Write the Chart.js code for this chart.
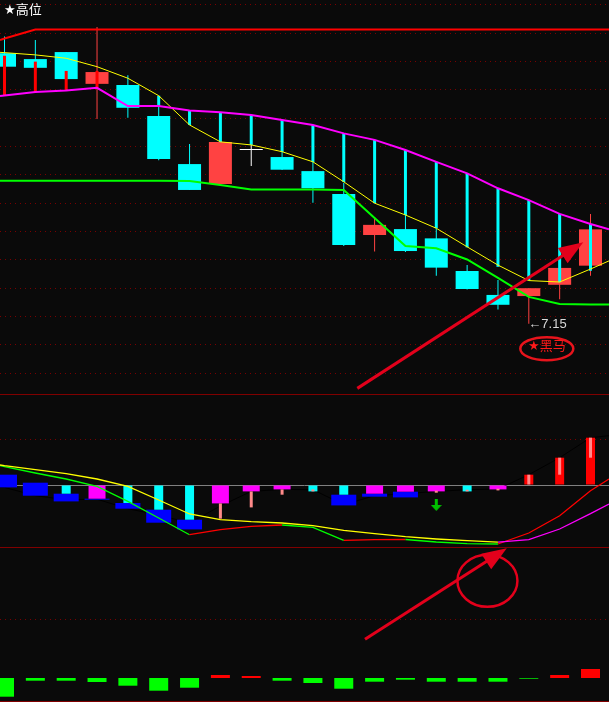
<!DOCTYPE html>
<html><head><meta charset="utf-8">
<script src="https://cdn.jsdelivr.net/npm/chart.js@4.4.0/dist/chart.umd.min.js"></script>
<style>
html,body{margin:0;padding:0;background:#0a0a0a;overflow:hidden;}
#wrap{position:relative;width:609px;height:702px;background:#0a0a0a;}
#wrap canvas{position:absolute;left:0;}
.sep{position:absolute;left:0;width:609px;height:1px;background:#800000;}
</style></head><body>
<div id="wrap">
<canvas id="cTop" width="609" height="394" style="top:0px"></canvas>
<div class="sep" style="top:394px"></div>
<canvas id="cMid" width="609" height="152" style="top:395px"></canvas>
<div class="sep" style="top:547px"></div>
<canvas id="cBot" width="609" height="153" style="top:548px"></canvas>
<div class="sep" style="top:701px"></div>
</div>
<script>
// ---------- data ----------
const dayIndex = [0,1,2,3,4,5,6,7,8,9,10,11,12,13,14,15,16,17,18,19];
const X_MIN = -0.146, X_MAX = 19.6;           // visible index range
const lineX = [X_MIN, ...dayIndex, X_MAX];     // line series: left edge, 20 days, right edge

// price panel (candles)
const open  = [8.111,8.090,8.115,8.002,7.998,7.888,7.717,7.646,7.767,7.742,7.692,7.611,7.465,7.486,7.453,7.337,7.252,7.248,7.288,7.356];
const close = [8.063,8.059,8.019,8.044,7.917,7.735,7.625,7.795,7.767,7.697,7.631,7.429,7.501,7.408,7.349,7.273,7.217,7.276,7.348,7.485];
const high  = [8.170,8.158,8.115,8.204,8.033,7.923,7.788,7.795,7.785,7.760,7.724,7.650,7.529,7.536,7.488,7.358,7.305,7.276,7.348,7.540];
const low   = [8.062,8.058,8.019,7.877,7.882,7.731,7.625,7.646,7.710,7.696,7.580,7.426,7.406,7.405,7.320,7.271,7.200,7.150,7.237,7.320];

// price panel lines (22 values: left edge, 20 days, right edge)
const resistLine = [8.158,8.163,8.195,8.195,8.195,8.195,8.195,8.195,8.195,8.195,8.195,8.195,8.195,8.195,8.195,8.195,8.195,8.195,8.195,8.195,8.195,8.195];
const upperBand  = [7.959,7.961,7.973,7.978,7.988,7.923,7.923,7.907,7.901,7.891,7.874,7.856,7.826,7.803,7.767,7.725,7.684,7.631,7.589,7.540,7.504,7.485];
const maLine     = [8.114,8.113,8.105,8.093,8.063,8.022,7.960,7.856,7.796,7.785,7.761,7.725,7.654,7.578,7.536,7.489,7.423,7.358,7.303,7.298,7.344,7.373];
const lowerBand  = [7.658,7.658,7.658,7.658,7.658,7.658,7.658,7.657,7.643,7.627,7.627,7.627,7.625,7.525,7.426,7.418,7.378,7.313,7.245,7.220,7.218,7.218];

// band bars: from upper band to this value; signal 1 = red, -1 = cyan
const bandBarEnd = [8.102,8.081,8.048,8.048,null,7.960,7.856,7.795,7.785,7.760,7.724,7.653,7.578,7.536,7.489,7.421,7.352,7.303,7.297,7.338];
const bandSignal = [1,1,1,1,0,-1,-1,-1,-1,-1,-1,-1,-1,-1,-1,-1,-1,-1,-1,-1];

// top panel grid levels
const topGrid = [8.285,8.182,8.082,7.983,7.880,7.780,7.681,7.578,7.478,7.379,7.276,7.176,7.077,6.973];

// middle panel (oscillator)
const momBar  = [null,null,-8.7,null,-18,-24.7,-34.7,null,null,null,-6.4,-9.7,null,null,null,-6.4,null,10.3,27.3,47.3];
const weakBar = [null,null,null,-13.7,null,null,null,-18.4,-6.4,-4.4,null,null,-8.7,-6.7,-6.4,null,-4.4,null,null,null];
const stepBar = [null,null,null,null,null,null,null,[-18.4,-33.7],[-6.4,-22.4],[-4.4,-9.7],[-4.4,-6.4],null,null,null,[-5.7,-7.7],[-4.7,-6.4],[-3.7,-5.4],[10.3,0],[27.3,10.3],[47.3,27.3]];
const blueBar = [[10.3,-2.4],[2.3,-10.7],[-8.7,-16.4],[-13.7,-14.7],[-18,-23.7],[-24.7,-37.7],[-34.7,-44.4],null,null,null,null,[-9.7,-20.4],[-8.7,-11.7],[-6.7,-12.4],null,null,null,null,null,null];
const shadowLine = [-2.4,-2.4,-10.7,-14.7,-14.2,-23.7,-30,-38,-21,-6.4,-4.4,-4.7,-19.7,-10.7,-8.7,-6.4,-4.7,-4,10.3,27.3,47.3,49.3];
const fastLine = [19.3,18.3,12,6,-1.4,-16.4,-33,-49.7,-44.7,-41.4,-40,-42.4,-55.4,-54.7,-54.5,-57,-58.7,-59,-48,-30.7,-5.7,6];
const slowLine = [20,19.3,15.3,11.3,6,-1.4,-15,-29,-34.7,-36.7,-38,-40.7,-45.4,-48.7,-51.7,-54,-55.7,-57.2,-54.7,-44,-28.7,-19];
const sellSignal = [null,null,null,null,null,null,null,null,null,null,null,null,null,null,-20,null,null,null,null,null];
const midGrid = [46, 0];

// bottom panel (volume-like bars)
const flowBar = [-18.7,-2.7,-2.7,-4,-7.7,-12.7,-9.7,3,2,-2.7,-5,-10.7,-3.7,-1.7,-3.7,-3.7,-3.7,-0.7,3,9];
const botGrid = [59];

// ---------- helpers ----------
const RED_C = '#ff4242', CYAN = '#00ffff';
const ptsOf = (arr) => dayIndex.filter(i => arr[i] != null).map(i => ({x: i, y: arr[i]}));
const edgePts = (arr) => arr.map((v, i) => ({x: lineX[i], y: v}));

function baseOptions(yMin, yMax, grid, gridColor, gridDash) {
  return {
    responsive: false, animation: false, events: [],
    layout: {padding: 0, autoPadding: false},
    plugins: {legend: {display: false}, tooltip: {enabled: false}},
    scales: {
      x: {type: 'linear', min: X_MIN, max: X_MAX, offset: false, display: false},
      y: {type: 'linear', min: yMin, max: yMax, display: true,
          afterBuildTicks: s => { s.ticks = grid.map(v => ({value: v})); },
          ticks: {display: false},
          grid: {drawTicks: false, lineWidth: 1, color: gridColor},
          border: {display: false, dash: gridDash}}
    }
  };
}

function drawArrow(ctx, x0, y0, x1, y1, color, lw, headLen, headHalf) {
  const a = Math.atan2(y1 - y0, x1 - x0);
  const ux = Math.cos(a), uy = Math.sin(a);
  const bx = x1 - ux * headLen, by = y1 - uy * headLen;
  ctx.strokeStyle = color; ctx.lineWidth = lw; ctx.lineCap = 'butt';
  ctx.beginPath(); ctx.moveTo(x0, y0); ctx.lineTo(bx + ux * 3, by + uy * 3); ctx.stroke();
  ctx.fillStyle = color;
  ctx.beginPath(); ctx.moveTo(x1, y1);
  ctx.lineTo(bx - uy * headHalf, by + ux * headHalf);
  ctx.lineTo(bx + uy * headHalf, by - ux * headHalf);
  ctx.closePath(); ctx.fill();
}

const candleColor = dayIndex.map(i => close[i] > open[i] ? RED_C : (close[i] < open[i] ? CYAN : '#ffffff'));
const bandIdx = dayIndex.filter(i => bandBarEnd[i] != null);

// ---------- top chart ----------
const topNotes = {
  id: 'topNotes',
  afterDatasetsDraw(chart) {
    const {ctx, scales: {x, y}} = chart;
    ctx.save();
    ctx.fillStyle = '#ffffff';
    ctx.font = '13px "DejaVu Sans", "Noto Sans CJK SC"';
    ctx.textBaseline = 'top'; ctx.textAlign = 'left';
    ctx.fillText('★高位', 4, 4);

    const li = low.indexOf(Math.min(...low));
    const lx = x.getPixelForValue(li), ly = y.getPixelForValue(low[li]);
    ctx.fillStyle = '#d8d8d8';
    ctx.font = '13px "Liberation Sans", "DejaVu Sans"';
    ctx.textBaseline = 'middle';
    ctx.fillText('←' + low[li].toFixed(2), lx - 0.5, ly + 1);

    const ex = lx + 18, ey = ly + 25;
    ctx.strokeStyle = '#e8141c'; ctx.lineWidth = 2.5;
    ctx.beginPath(); ctx.ellipse(ex, ey, 26.5, 11.5, 0, 0, Math.PI * 2); ctx.stroke();
    ctx.fillStyle = '#ff1a1a';
    ctx.font = '13px "DejaVu Sans", "Noto Sans CJK SC"';
    ctx.textAlign = 'center';
    ctx.fillText('★黑马', ex, ey - 2);

    drawArrow(ctx, x.getPixelForValue(11.44), y.getPixelForValue(6.920),
                   x.getPixelForValue(18.767), y.getPixelForValue(7.439), '#e3001b', 3, 24.5, 9);
    ctx.restore();
  }
};

new Chart(document.getElementById('cTop'), {
  type: 'bar',
  data: { datasets: [
    {type: 'line', label: '压力线', data: edgePts(resistLine), borderColor: '#ff0000', borderWidth: 2, pointRadius: 0, tension: 0, order: 1},
    {type: 'line', label: '上轨', data: edgePts(upperBand), borderColor: '#ff00ff', borderWidth: 2, pointRadius: 0, tension: 0, order: 2},
    {type: 'line', label: '均线', data: edgePts(maLine), borderColor: '#ffff00', borderWidth: 1, pointRadius: 0, tension: 0, order: 3},
    {type: 'line', label: '下轨', data: edgePts(lowerBand), borderColor: '#00ff00', borderWidth: 2, pointRadius: 0, tension: 0, order: 4},
    {type: 'bar', label: '带宽', data: bandIdx.map(i => ({x: i, y: [upperBand[i + 1], bandBarEnd[i]]})),
      backgroundColor: bandIdx.map(i => bandSignal[i] > 0 ? '#ff0000' : CYAN),
      barThickness: 3, grouped: false, inflateAmount: 0, borderWidth: 0, order: 5},
    {type: 'bar', label: '实体', data: dayIndex.map(i => ({x: i, y: [open[i], close[i]]})),
      backgroundColor: candleColor, barThickness: 23, minBarLength: 1, grouped: false, inflateAmount: 0, borderWidth: 0, order: 6},
    {type: 'bar', label: '影线', data: dayIndex.map(i => ({x: i, y: [low[i], high[i]]})),
      backgroundColor: candleColor, barThickness: 1, grouped: false, inflateAmount: 0, borderWidth: 0, order: 7}
  ]},
  options: baseOptions(6.90, 8.30, topGrid, '#7a0000', [1, 4]),
  plugins: [topNotes]
});

// ---------- middle chart ----------
function arrowIcon() {
  const c = document.createElement('canvas'); c.width = 11; c.height = 12;
  const g = c.getContext('2d'); g.fillStyle = '#00c000';
  g.fillRect(4, 0, 3, 6);
  g.beginPath(); g.moveTo(0, 6); g.lineTo(11, 6); g.lineTo(5.5, 12); g.closePath(); g.fill();
  return c;
}
const blueIdx = dayIndex.filter(i => blueBar[i] != null);
const stepIdx = dayIndex.filter(i => stepBar[i] != null);
const momIdx = dayIndex.filter(i => momBar[i] != null);

new Chart(document.getElementById('cMid'), {
  type: 'bar',
  data: { datasets: [
    {type: 'line', label: '信号', data: ptsOf(sellSignal), showLine: false, pointStyle: arrowIcon(), pointRadius: 6, order: 1},
    {type: 'line', label: '慢线', data: edgePts(slowLine), borderWidth: 1.3, pointRadius: 0, tension: 0, order: 2,
      borderColor: '#ffff00', segment: {borderColor: s => s.p1.parsed.y > s.p0.parsed.y ? '#ff00ff' : '#ffff00'}},
    {type: 'line', label: '快线', data: edgePts(fastLine), borderWidth: 1.3, pointRadius: 0, tension: 0, order: 3,
      borderColor: '#00ff00', segment: {borderColor: s => s.p1.parsed.y > s.p0.parsed.y ? '#ff0000' : '#00ff00'}},
    {type: 'bar', label: '变化', data: stepIdx.map(i => ({x: i, y: stepBar[i]})), backgroundColor: '#ff8a8a',
      barThickness: 3, grouped: false, inflateAmount: 0, borderWidth: 0, order: 4},
    {type: 'bar', label: '动能', data: momIdx.map(i => ({x: i, y: momBar[i]})),
      backgroundColor: momIdx.map(i => momBar[i] > 0 ? '#ff0000' : CYAN),
      barThickness: 9, grouped: false, inflateAmount: 0, borderWidth: 0, order: 5},
    {type: 'bar', label: '弱势', data: ptsOf(weakBar), backgroundColor: '#ff00ff',
      barThickness: 17, grouped: false, inflateAmount: 0, borderWidth: 0, order: 5},
    {type: 'bar', label: '资金', data: blueIdx.map(i => ({x: i, y: blueBar[i]})), backgroundColor: '#0000ff',
      barThickness: 25, grouped: false, inflateAmount: 0, borderWidth: 0, order: 6},
    {type: 'line', label: '轨迹', data: edgePts(shadowLine), borderColor: '#000000', borderWidth: 1, pointRadius: 0, tension: 0, order: 7}
  ]},
  options: baseOptions(-62, 90, midGrid,
    c => (c.tick && c.tick.value === 0) ? '#808080' : '#7a0000',
    c => (c.tick && c.tick.value === 0) ? [] : [1, 4])
});

// ---------- bottom chart ----------
const botNotes = {
  id: 'botNotes',
  afterDatasetsDraw(chart) {
    const {ctx, scales: {x, y}} = chart;
    ctx.save();
    ctx.strokeStyle = '#e3001b'; ctx.lineWidth = 2.5;
    ctx.beginPath();
    ctx.ellipse(x.getPixelForValue(15.658), y.getPixelForValue(97.2), 30, 26, 0, 0, Math.PI * 2);
    ctx.stroke();
    drawArrow(ctx, x.getPixelForValue(11.689), y.getPixelForValue(38.7),
                   x.getPixelForValue(16.287), y.getPixelForValue(129.7), '#e3001b', 3, 24.5, 9.2);
    ctx.restore();
  }
};

new Chart(document.getElementById('cBot'), {
  type: 'bar',
  data: { datasets: [
    {type: 'bar', label: '量能', data: ptsOf(flowBar),
      backgroundColor: flowBar.map(v => v > 0 ? '#ff0000' : '#00ff00'),
      barThickness: 19, grouped: false, inflateAmount: 0, borderWidth: 0, order: 1}
  ]},
  options: baseOptions(-23, 130, botGrid, '#7a0000', [1, 4]),
  plugins: [botNotes]
});
</script>
</body></html>
